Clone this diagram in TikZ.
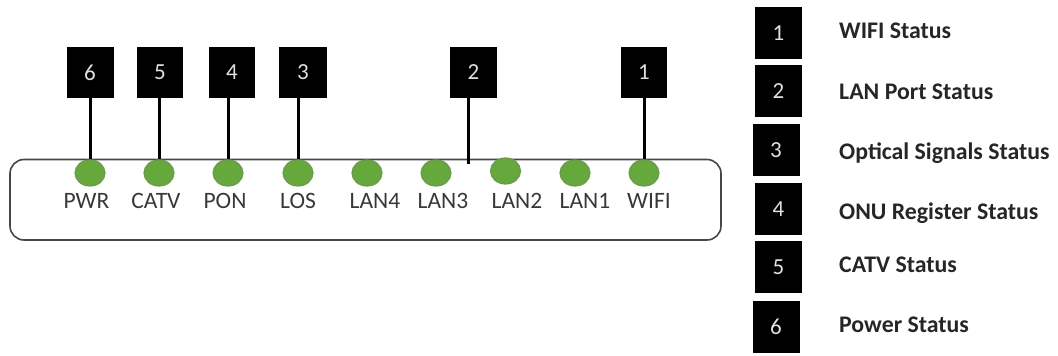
\documentclass[tikz,border=0pt]{standalone}
\usepackage{fontspec}
\setmainfont{Carlito}
\tikzset{
  x=1pt,y=-1pt,
  numbox/.style={fill=black,text=white!88!black,minimum width=#1,minimum height=51pt,inner sep=0pt,font=\fontsize{23}{26}\selectfont},
  legbox/.style={fill=black,text=white!88!black,minimum width=47pt,minimum height=52pt,inner sep=0pt,font=\fontsize{23}{26}\selectfont},
  led/.style={ellipse,fill=ledgreen,draw=ledrim,line width=1.2pt,minimum width=30pt,minimum height=26pt,inner sep=0pt},
  ledtext/.style={text=black!78,inner sep=0pt,anchor=center,font=\fontsize{23.5}{26}\selectfont},
  legtext/.style={text=black!85,inner sep=0pt,anchor=west,font=\bfseries\fontsize{23.8}{26}\selectfont},
  stem/.style={draw=black,line width=3pt},
  body/.style={draw=black!72,line width=1.6pt,rounded corners=14pt}
}
\definecolor{ledgreen}{HTML}{66A83C}
\definecolor{ledrim}{HTML}{6E9A50}
\usetikzlibrary{shapes.geometric}
\begin{document}
\begin{tikzpicture}
\useasboundingbox (0,0) rectangle (1058,356);
\draw[body] (10,159.5) rectangle (721,240);
\node[led] (lpwr) at (90,173) {};
\node[led] (lcatv) at (159,173) {};
\node[led] (lpon) at (228,173) {};
\node[led] (llos) at (298,173) {};
\node[led] (llan4) at (367,173) {};
\node[led] (llan3) at (436,173) {};
\node[led] (llan2) at (505.5,171) {};
\node[led] (llan1) at (575,173) {};
\node[led] (lwifi) at (644,173) {};
\node[ledtext] (tpwr) at (86.5,201) {PWR};
\node[ledtext] (tcatv) at (156,201) {CATV};
\node[ledtext] (tpon) at (225,201) {PON};
\node[ledtext] (tlos) at (298,201) {LOS};
\node[ledtext] (tlan4) at (375,201) {LAN4};
\node[ledtext] (tlan3) at (443,201) {LAN3};
\node[ledtext] (tlan2) at (517,201) {LAN2};
\node[ledtext] (tlan1) at (585,201) {LAN1};
\node[ledtext] (twifi) at (649,201) {WIFI};
\node[numbox=47pt] (b6) at (90,72.5) {6};
\node[numbox=46pt] (b5) at (160,72.5) {5};
\node[numbox=46pt] (b4) at (232,72.5) {4};
\node[numbox=48pt] (b3) at (303,72.5) {3};
\node[numbox=47pt] (b2) at (473.5,72.5) {2};
\node[numbox=46pt] (b1) at (644,72.5) {1};
\coordinate (e2) at (468.5,163.5);
\draw[stem] (b6.south) -- (lpwr.north);
\draw[stem] (b5.south -| lcatv.north) -- (lcatv.north);
\draw[stem] (b4.south -| lpon.north) -- (lpon.north);
\draw[stem] (b3.south -| llos.north) -- (llos.north);
\draw[stem] (b2.south -| e2) -- (e2);
\draw[stem] (b1.south) -- (lwifi.north);
\node[legbox] (k1) at (778.5,33) {1};
\node[legbox] (k2) at (778.5,91) {2};
\node[legbox] (k3) at (776,150) {3};
\node[legbox] (k4) at (778.5,209) {4};
\node[legbox] (k5) at (778.5,267) {5};
\node[legbox] (k6) at (776,326.5) {6};
\node[legtext] (s1) at (839,31) {WIFI Status};
\node[legtext] (s2) at (839,92) {LAN Port Status};
\node[legtext] (s3) at (839,153) {Optical Signals Status};
\node[legtext] (s4) at (839,213) {ONU Register Status};
\node[legtext] (s5) at (839,265) {CATV Status};
\node[legtext] (s6) at (839,325) {Power Status};
\end{tikzpicture}
\end{document}
